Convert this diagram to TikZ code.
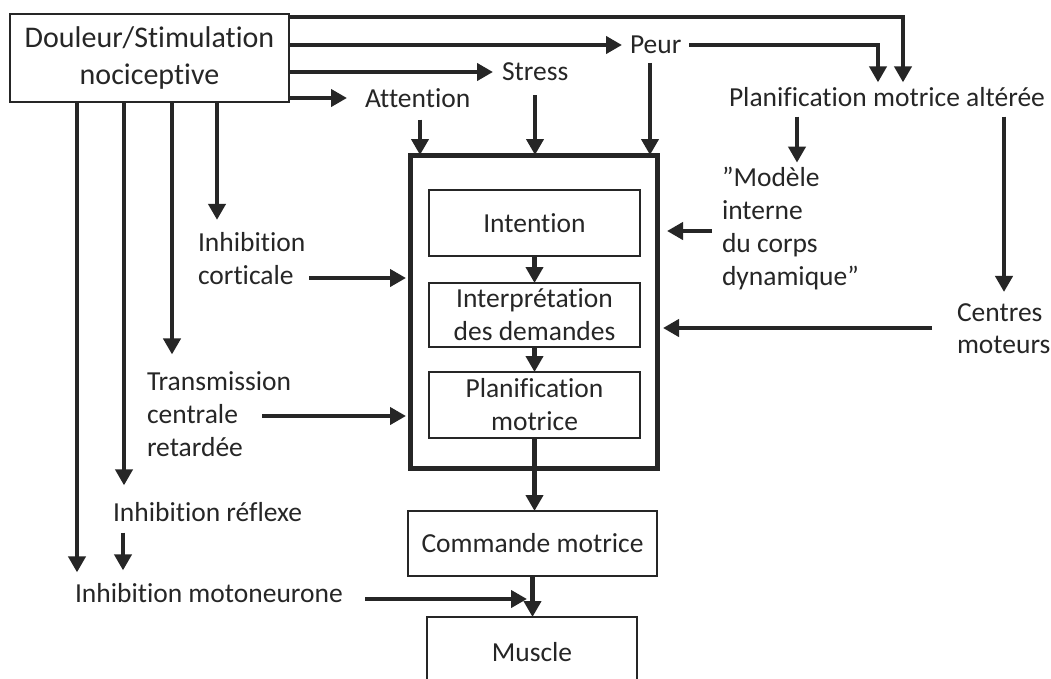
\documentclass[tikz,border=0pt]{standalone}
\usepackage{fontspec}
\setmainfont{Carlito}[Ligatures={NoCommon}]
\usetikzlibrary{arrows.meta}
\definecolor{ink}{HTML}{262626}
\newcommand\lblfont{\fontsize{27.5}{33}\selectfont}
\newcommand\srcfont{\fontsize{30}{37}\selectfont}
\begin{document}
\begin{tikzpicture}[x=1pt,y=-1pt,
  arr/.style={draw=ink,line width=4.5pt,-{Triangle[length=16pt,width=17pt]}},
  lbl/.style={inner sep=0pt,outer sep=0pt,anchor=west,align=left,font=\lblfont,text=ink},
  box/.style={draw=ink,line width=2pt,inner sep=0pt,outer sep=0pt,align=center,font=\lblfont,text=ink}]
\useasboundingbox (0,0) rectangle (1051,678);
\fill[white] (0,0) rectangle (1051,678);
\begin{scope}
\clip (0,0) rectangle (1051,678);
% nodes
\node[box,minimum width=279pt,minimum height=88pt,font=\srcfont] (src) at (149.5,58) {Douleur/Stimulation\\nociceptive};
\node[lbl] (peur) at (630,45) {Peur};
\node[lbl] (stress) at (502,72) {Stress};
\node[lbl] (attn) at (365,98) {Attention};
\node[lbl] (plan) at (729,97) {Planification motrice altérée};
\node[lbl] (modele) at (722,229) {”Modèle\\interne\\du corps\\dynamique”};
\node[lbl,font=\fontsize{27.5}{32}\selectfont] (centres) at (957,329) {Centres\\moteurs};
\node[lbl] (inhcort) at (198,259) {Inhibition\\corticale};
\node[lbl] (trans) at (147,414) {Transmission\\centrale\\retardée};
\node[lbl] (inhref) at (113,512) {Inhibition réflexe};
\node[lbl] (inhmot) at (75,593) {Inhibition motoneurone};
\node[draw=ink,line width=5pt,inner sep=0pt,outer sep=0pt,minimum width=247pt,minimum height=313pt] (main) at (533.5,311.5) {};
\node[box,minimum width=211pt,minimum height=66pt] (int) at (534.5,223) {Intention};
\node[box,minimum width=211pt,minimum height=64pt] (interp) at (534.5,315) {Interprétation\\des demandes};
\node[box,minimum width=211pt,minimum height=66pt] (planm) at (534.5,405) {Planification\\motrice};
\node[box,minimum width=249pt,minimum height=65pt] (cmd) at (532.5,543.5) {Commande motrice};
\node[box,minimum width=210pt,minimum height=70pt] (musc) at (532,652) {Muscle};
% connectors from source
\draw[arr] ([yshift=-3pt]src.north east) -| ([xshift=174pt,yshift=5pt]plan.north west);
\draw[arr] ([yshift=-31pt]src.north east) -- ([xshift=-8pt]peur.west);
\draw[arr] ([yshift=-58pt]src.north east) -- ([xshift=-9pt]stress.west);
\draw[arr] ([yshift=-84pt]src.north east) -- ([xshift=-18pt]attn.west);
\draw[arr] ([xshift=8pt]peur.east) -| ([xshift=149pt,yshift=5pt]plan.north west);
\draw[arr] ([xshift=20pt,yshift=-9pt]peur.south west) -- ([xshift=-7pt]main.north east);
\draw[arr] ([xshift=33pt,yshift=-14pt]stress.south west) -- ([xshift=125pt]main.north west);
\draw[arr] ([xshift=55pt,yshift=-12pt]attn.south west) -- ([xshift=10pt]main.north west);
\draw[arr] ([xshift=68pt,yshift=-10pt]plan.south west) -- ([xshift=75pt,yshift=5pt]modele.north west);
\draw[arr] ([xshift=275pt,yshift=-10pt]plan.south west) -- ([xshift=47pt,yshift=12pt]centres.north west);
\draw[arr] ([xshift=-10pt,yshift=-2pt]modele.west) -- ([xshift=10pt,yshift=80.5pt]main.east);
\draw[arr] ([xshift=-25pt,yshift=1pt]centres.west) -- ([xshift=6pt,yshift=-16.5pt]main.east);
\draw[arr] ([xshift=111pt,yshift=-19pt]inhcort.west) -- ([xshift=-4pt,yshift=33.5pt]main.west);
\draw[arr] ([xshift=115pt,yshift=-2pt]trans.west) -- ([xshift=-4pt,yshift=-104.5pt]main.west);
\draw[arr] (int.south) -- (interp.north);
\draw[arr] (interp.south) -- (planm.north);
\draw[arr] (planm.south) -- (planm.south |- cmd.north);
\draw[arr] (cmd.south) -- (cmd.south |- musc.north);
\draw[arr] ([xshift=290pt,yshift=-6pt]inhmot.west) -- ([xshift=-5pt,yshift=18pt]musc.north);
\draw[arr] ([xshift=67pt]src.south west) -- ([xshift=2pt,yshift=11pt]inhmot.north west);
\draw[arr] ([xshift=114pt]src.south west) -- ([xshift=11pt,yshift=17pt]inhref.north west);
\draw[arr] ([xshift=162pt]src.south west) -- ([xshift=25pt,yshift=17pt]trans.north west);
\draw[arr] ([xshift=207pt]src.south west) -- ([xshift=19pt,yshift=13pt]inhcort.north west);
\draw[arr] ([xshift=10pt,yshift=-11pt]inhref.south west) -- ([xshift=48pt,yshift=13pt]inhmot.north west);
\end{scope}
\end{tikzpicture}
\end{document}
